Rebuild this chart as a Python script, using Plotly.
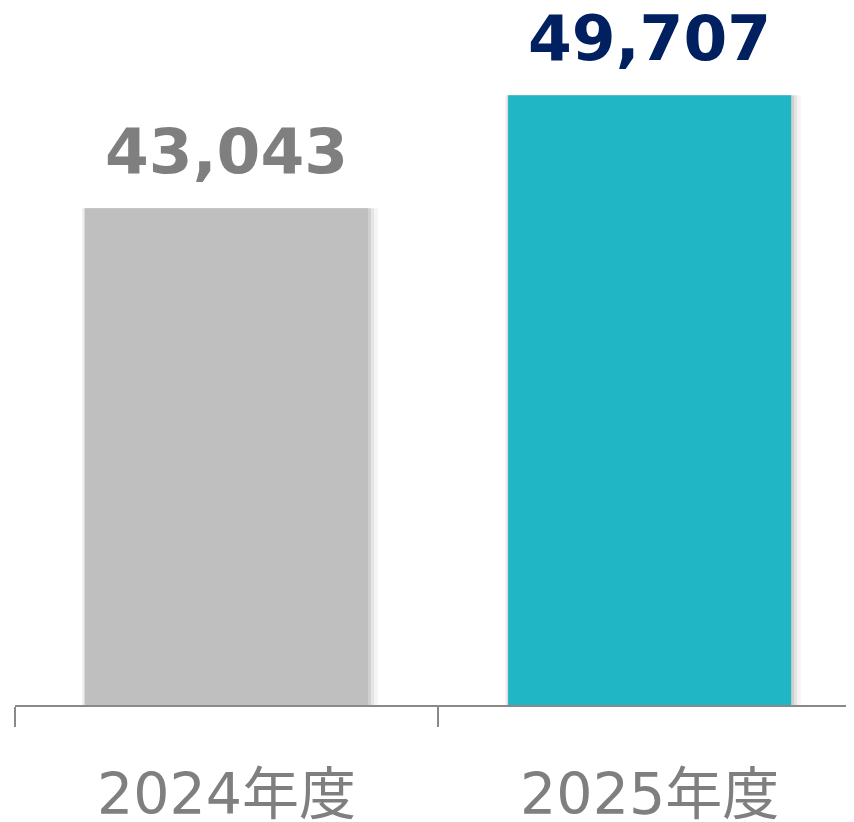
import plotly.graph_objects as go

categories = ["2024年度", "2025年度"]
values = [43043, 49707]
bar_colors = ["#bfbfbf", "#21b6c5"]
label_colors = ["#7f7f7f", "#002060"]

BW = 0.669

fig = go.Figure()
# soft shadow layers
for extra, shift, alpha in [(0.030, 0.008, 0.045), (0.018, 0.005, 0.06), (0.008, 0.003, 0.09)]:
    fig.add_trace(go.Bar(
        x=categories, y=values,
        width=BW + extra, offset=-(BW + extra) / 2 + shift,
        marker=dict(color=f"rgba(0,0,0,{alpha})", line=dict(width=0)),
        hoverinfo="skip",
    ))
fig.add_trace(go.Bar(
    x=categories, y=values,
    width=BW, offset=-BW / 2,
    marker=dict(color=bar_colors, line=dict(width=0)),
    hoverinfo="skip",
))

for c, v, col in zip(categories, values, label_colors):
    fig.add_annotation(
        x=c, y=v, text=f"{v:,}", showarrow=False,
        xanchor="center", yanchor="bottom", yshift=18,
        font=dict(family="DejaVu Sans, Verdana, sans-serif", size=63, color=col, weight="bold"),
    )

fig.update_layout(
    width=846, height=814,
    margin=dict(l=7, r=0, t=0, b=117),
    paper_bgcolor="white", plot_bgcolor="white",
    barmode="overlay",
    showlegend=False,
    xaxis=dict(
        range=[-0.5, 1.483],
        automargin=False,
        showline=True, linecolor="#898989", linewidth=2,
        ticks="outside", tickson="boundaries", ticklen=20, tickwidth=1.5, tickcolor="#898989",
        tickfont=dict(family="DejaVu Sans, Noto Sans CJK JP, sans-serif", size=57, color="#7f7f7f"),
        ticklabelstandoff=39,
        showgrid=False, zeroline=False,
    ),
    yaxis=dict(
        range=[13745, 54856], visible=False, showgrid=False, zeroline=False,
        automargin=False,
    ),
)

fig.write_html("out.html")
